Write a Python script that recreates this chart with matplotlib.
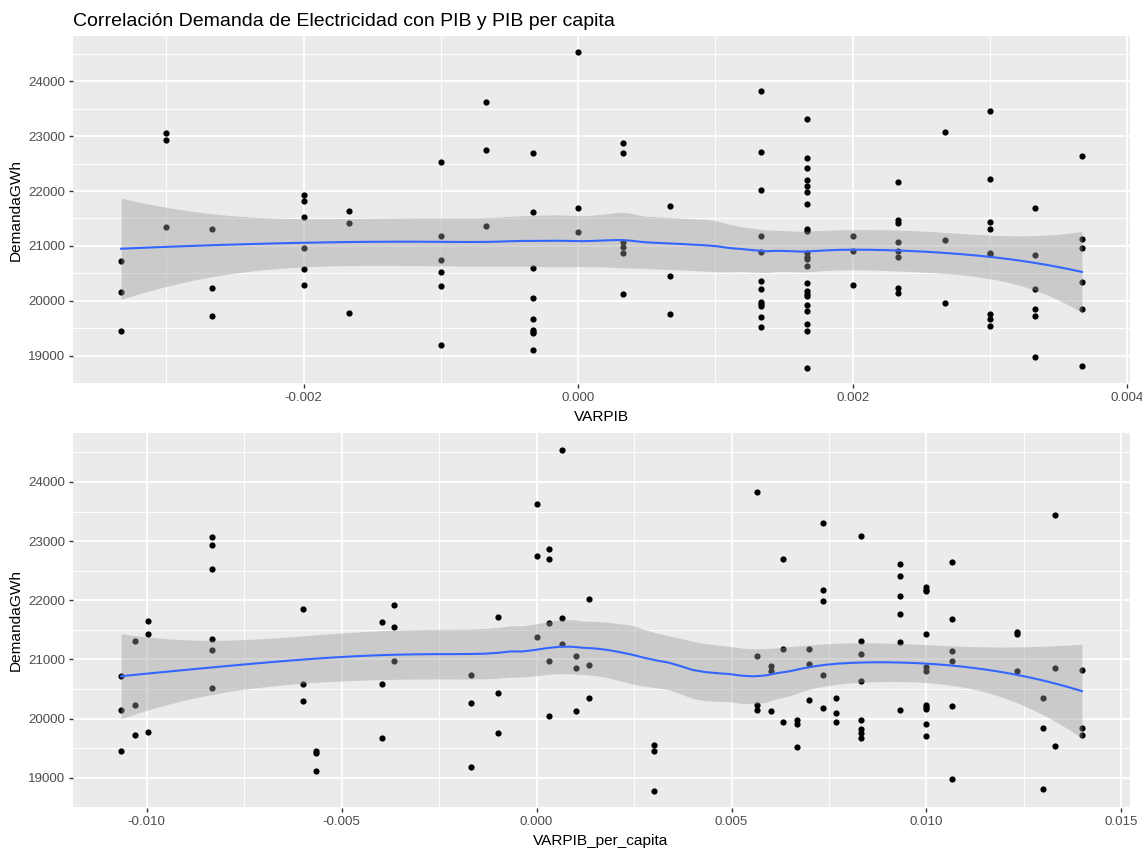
import numpy as np
import matplotlib
matplotlib.use("Agg")
import matplotlib.pyplot as plt
from matplotlib.ticker import FixedLocator, FuncFormatter

plt.rcParams['font.family'] = ['Liberation Sans', 'DejaVu Sans']

# ---------------- data ----------------
varpib = ([-0.00333] * 3 + [-0.003] * 3 + [-0.00267] * 3 + [-0.002] * 6 + [-0.00167] * 3 +
          [-0.001] * 6 + [-0.00067] * 3 + [-0.00033] * 9 + [0.0] * 3 + [0.00033] * 6 +
          [0.00067] * 3 + [0.00133] * 12 + [0.00167] * 22 + [0.002] * 3 + [0.00233] * 8 +
          [0.00267] * 3 + [0.003] * 9 + [0.00333] * 6 + [0.00367] * 6)
demanda_top = [
    20720, 20155, 19450,
    23060, 22930, 21350,
    21310, 20235, 19715,
    21935, 21825, 21525, 20965, 20585, 20295,
    21640, 21425, 19775,
    22525, 21180, 20735, 20525, 20275, 19200,
    23620, 22755, 21365,
    22690, 21620, 20605, 20045, 19660, 19470, 19435, 19405, 19105,
    24540, 21695, 21260,
    22870, 22690, 21070, 20975, 20870, 20120,
    21720, 20445, 19755,
    23830, 22715, 22020, 21180, 20895, 20360, 20215, 19980, 19945, 19910, 19695, 19525,
    23315, 22600, 22425, 22200, 22085, 21980, 21770, 21310, 21270, 20875, 20800, 20755,
    20635, 20330, 20170, 20120, 20085, 19925, 19810, 19570, 19440, 18770,
    21180, 20915, 20295,
    22160, 21465, 21420, 21065, 20915, 20790, 20240, 20145,
    23085, 21100, 19960,
    23465, 22215, 21435, 21310, 20875, 20845, 19755, 19665, 19545,
    21695, 20830, 20215, 19855, 19715, 18965,
    22640, 21135, 20965, 20350, 19855, 18810,
]

varpib_pc = ([-0.01066] * 3 + [-0.01031] * 3 + [-0.00998] * 3 + [-0.00833] * 6 + [-0.00599] * 3 +
             [-0.00567] * 3 + [-0.00397] * 3 + [-0.00366] * 3 + [-0.00167] * 3 + [-0.00099] * 3 +
             [0.0] * 3 + [0.00033] * 5 + [0.00066] * 3 + [0.00102] * 3 + [0.00134] * 3 +
             [0.0030] * 3 + [0.00566] * 4 + [0.00601] * 3 + [0.00633] * 3 + [0.00667] * 3 +
             [0.00699] * 3 + [0.00734] * 5 + [0.00767] * 3 + [0.00831] * 8 + [0.00932] * 6 +
             [0.0100] * 11 + [0.01065] * 6 + [0.01233] * 3 + [0.01298] * 3 + [0.01331] * 3 +
             [0.01399] * 3)
demanda_bottom = [
    20720, 20145, 19450,
    21310, 20235, 19720,
    21645, 21435, 19775,
    23075, 22935, 22520, 21345, 21165, 20520,
    21845, 20590, 20290,
    19455, 19420, 19110,
    21630, 20590, 19665,
    21915, 21540, 20965,
    20735, 20270, 19180,
    21720, 20435, 19755,
    23630, 22755, 21375,
    22860, 22700, 21610, 20965, 20040,
    24540, 21695, 21255,
    21055, 20860, 20130,
    22020, 20900, 20345,
    19555, 19450, 18775,
    23825, 21055, 20235, 20145,
    20880, 20805, 20130,
    22700, 21180, 19935,
    19970, 19900, 19520,
    21180, 20915, 20310,
    23305, 22180, 21985, 20735, 20170,
    20345, 20095, 19935,
    23090, 21310, 21090, 20630, 19970, 19830, 19760, 19665,
    22605, 22415, 22075, 21770, 21290, 20145,
    22220, 22180, 22150, 21435, 20870, 20805, 20225, 20190, 20155, 19915, 19700,
    22645, 21680, 21145, 20965, 20220, 18970,
    21470, 21435, 20805,
    20345, 19845, 18810,
    23445, 20860, 19540,
    20825, 19845, 19720,
]

title = "Correlación Demanda de Electricidad con PIB y PIB per capita"
ylabel = "DemandaGWh"
xlabel_top = "VARPIB"
xlabel_bottom = "VARPIB_per_capita"
xticks_top = [-0.002, 0.000, 0.002, 0.004]
xticks_bottom = [-0.010, -0.005, 0.000, 0.005, 0.010, 0.015]
yticks = [19000, 20000, 21000, 22000, 23000, 24000]


# ---------------- loess (span 0.75, degree 2, tricube) ----------------
def loess_rows(x, xs, span=0.75):
    n = len(x)
    q = int(np.floor(n * span))
    rows = []
    for x0 in xs:
        d = np.abs(x - x0)
        h = np.sort(d)[q - 1]
        w = np.clip(1 - (d / h) ** 3, 0, None) ** 3
        X = np.column_stack([np.ones(n), x - x0, (x - x0) ** 2])
        XtW = X.T * w
        A = np.linalg.pinv(XtW @ X) @ XtW
        rows.append(A[0])
    return np.array(rows)


def loess_fit(x, y, ngrid=80):
    x = np.asarray(x, float)
    y = np.asarray(y, float)
    xs = np.linspace(x.min(), x.max(), ngrid)
    L = loess_rows(x, x)
    resid = y - L @ y
    M = np.eye(len(x)) - L
    d1 = np.trace(M.T @ M)
    sigma = np.sqrt(np.sum(resid ** 2) / d1)
    Lg = loess_rows(x, xs)
    fit = Lg @ y
    se = sigma * np.sqrt(np.sum(Lg ** 2, axis=1))
    t = 1.98
    return xs, fit, fit - t * se, fit + t * se


# ---------------- figure ----------------
W, H = 1142, 851
fig = plt.figure(figsize=(W / 100, H / 100), dpi=100)


def add_ax(left, top, right, bottom):
    return fig.add_axes([left / W, 1 - bottom / H, (right - left) / W, (bottom - top) / H])


def style(ax, x, y, xticks):
    x = np.asarray(x, float)
    y = np.asarray(y, float)
    ax.set_facecolor('#EBEBEB')
    for s in ax.spines.values():
        s.set_visible(False)
    xr = x.max() - x.min()
    ax.set_xlim(x.min() - 0.05 * xr, x.max() + 0.05 * xr)
    yr = y.max() - y.min()
    ax.set_ylim(y.min() - 0.05 * yr, y.max() + 0.05 * yr)
    ax.xaxis.set_major_locator(FixedLocator(xticks))
    step = xticks[1] - xticks[0]
    minors = [xticks[0] - step / 2] + [t + step / 2 for t in xticks]
    ax.xaxis.set_minor_locator(FixedLocator(minors))
    ax.yaxis.set_major_locator(FixedLocator(yticks))
    ax.yaxis.set_minor_locator(FixedLocator([18500] + [t + 500 for t in yticks]))
    ax.grid(which='major', color='white', linewidth=1.35)
    ax.grid(which='minor', color='white', linewidth=0.7)
    ax.set_axisbelow(True)
    ax.tick_params(which='major', length=2.65, width=1.0, color='#333333',
                   labelcolor='#4D4D4D', labelsize=9.6, pad=2.8)
    ax.tick_params(which='minor', length=0)
    ax.xaxis.set_major_formatter(FuncFormatter(lambda v, p: f"{v:.3f}"))
    ax.yaxis.set_major_formatter(FuncFormatter(lambda v, p: f"{int(round(v))}"))

    ax.scatter(x, y, s=20, color='black', linewidths=0, zorder=2)
    xs, fit, lo, hi = loess_fit(x, y)
    ax.fill_between(xs, lo, hi, color='#999999', alpha=0.4, linewidth=0, zorder=3)
    ax.plot(xs, fit, color='#3366FF', linewidth=1.5, zorder=4)


ax1 = add_ax(73, 36, 1130, 384)
style(ax1, varpib, demanda_top, xticks_top)
ax2 = add_ax(73, 433, 1130, 808)
style(ax2, varpib_pc, demanda_bottom, xticks_bottom)

fig.text(73 / W, 1 - 26 / H, title, fontsize=14.0, color='black', ha='left', va='baseline')
fig.text(601 / W, 1 - 417 / H, xlabel_top, fontsize=11.1, ha='center', va='center')
fig.text(601 / W, 1 - 841 / H, xlabel_bottom, fontsize=11.1, ha='center', va='center')
fig.text(16 / W, 1 - 210 / H, ylabel, fontsize=11.1, ha='center', va='center', rotation=90)
fig.text(16 / W, 1 - 620 / H, ylabel, fontsize=11.1, ha='center', va='center', rotation=90)

fig.savefig('out.png', dpi=100, facecolor='white')
